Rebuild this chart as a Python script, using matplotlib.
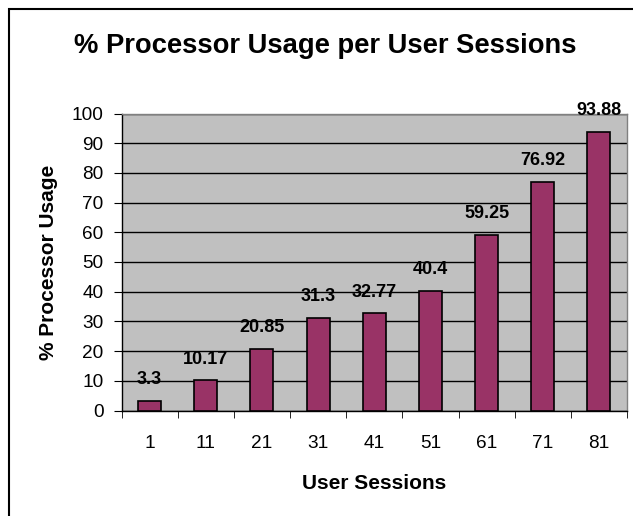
import matplotlib
matplotlib.use("Agg")
import matplotlib.pyplot as plt
from matplotlib.patches import Rectangle

sessions = ["1", "11", "21", "31", "41", "51", "61", "71", "81"]
usage = [3.3, 10.17, 20.85, 31.3, 32.77, 40.4, 59.25, 76.92, 93.88]
value_labels = ["3.3", "10.17", "20.85", "31.3", "32.77", "40.4", "59.25", "76.92", "93.88"]
yticks = [0, 10, 20, 30, 40, 50, 60, 70, 80, 90, 100]

plt.rcParams['font.family'] = ['Liberation Sans', 'DejaVu Sans']

W, H = 633, 516
fig = plt.figure(figsize=(W / 100, H / 100), dpi=100)
fig.patch.set_facecolor('white')

# outer chart border (left and top visible)
fig.add_artist(Rectangle((8.5 / W, -0.1), 2, (H - 8.5) / H + 0.1, transform=fig.transFigure,
                         fill=False, edgecolor='black', linewidth=1.5))

L, R, T, B = 121.5, 627, 113.5, 410.5
ax = fig.add_axes([L / W, (H - B) / H, (R - L) / W, (B - T) / H])
ax.set_facecolor('#C0C0C0')

x = list(range(len(sessions)))
ax.bar(x, usage, width=0.41, color='#993366', edgecolor='black', linewidth=1.2, zorder=3)

for xi, v, lab in zip(x, usage, value_labels):
    ax.annotate(lab, (xi, v), xytext=(0, 12), textcoords='offset points',
                ha='center', va='baseline', fontsize=13, fontweight='bold', zorder=4)

ax.set_xlim(-0.5, len(sessions) - 0.5)
ax.set_ylim(0, 100)
ax.set_yticks(yticks)
ax.set_yticklabels([str(t) for t in yticks], fontsize=13.7)
ax.set_xticks(x)
ax.set_xticklabels(sessions, fontsize=13.7)
ax.tick_params(axis='x', length=0, pad=18)
ax.set_xticks([i - 0.5 for i in range(len(sessions) + 1)], minor=True)
ax.tick_params(axis='x', which='minor', length=5, direction='out', color='black')
ax.tick_params(axis='y', length=6, direction='out', color='black', pad=7)

ax.yaxis.grid(True, color='black', linewidth=1)
ax.set_axisbelow(True)

for s in ['top', 'right']:
    ax.spines[s].set_color('#808080')
    ax.spines[s].set_linewidth(1)
for s in ['left', 'bottom']:
    ax.spines[s].set_color('black')
    ax.spines[s].set_linewidth(1)

ax.set_xlabel('User Sessions', fontsize=15, fontweight='bold', labelpad=15.5)
ax.set_ylabel('% Processor Usage', fontsize=15, fontweight='bold', labelpad=10)

fig.text(325.5 / W, 1 - 53 / H, '% Processor Usage per User Sessions', ha='center', va='baseline',
         fontsize=19.7, fontweight='bold')

fig.savefig('out.png', dpi=100)
